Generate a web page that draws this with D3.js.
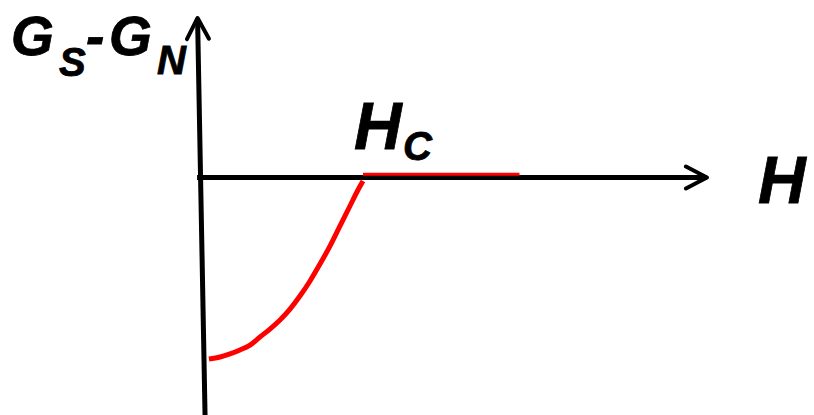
<!DOCTYPE html>
<html>
<head>
<meta charset="utf-8">
<script src="https://cdn.jsdelivr.net/npm/d3@7"></script>
<style>
  html, body { margin: 0; padding: 0; background: #fff; }
  svg { display: block; }
  text, tspan { font-family: "Liberation Sans", Arial, sans-serif; font-weight: bold; font-style: italic; fill: #000; stroke: #000; stroke-width: 0.8px; }
</style>
</head>
<body>
<svg id="chart" width="814" height="415"></svg>
<script>
// Reduced field H/Hc and free-energy difference (Gs - Gn), normalised to its minimum
const fieldSuper = [0.055, 0.123, 0.184, 0.245, 0.307, 0.368, 0.429, 0.491, 0.552,
                    0.613, 0.675, 0.736, 0.798, 0.859, 0.920, 0.969, 1.0];
const energySuper = [-1.0, -0.989, -0.972, -0.950, -0.923, -0.879, -0.835, -0.785, -0.725,
                     -0.653, -0.570, -0.477, -0.377, -0.267, -0.157, -0.069, -0.019];

// Normal state above Hc
const fieldNormal = [1.0, 1.96];
const energyNormal = [0.018, 0.018];

// Hand-drawn axis strokes, in data units
const yAxisH = [0.031, -0.015];
const yAxisG = [-1.31, 0.879];
const xAxisH = [-0.018, 3.11];
const xAxisG = [0, 0];

const svg = d3.select("#chart");

const x = d3.scaleLinear().domain([0, 1]).range([200, 363]);
const y = d3.scaleLinear().domain([0, -1]).range([177.5, 359]);

// open chevron arrowhead
svg.append("defs").append("marker")
  .attr("id", "arrow")
  .attr("markerUnits", "userSpaceOnUse")
  .attr("viewBox", "-24 -14 28 28")
  .attr("markerWidth", 28).attr("markerHeight", 28)
  .attr("refX", 0).attr("refY", 0)
  .attr("orient", "auto")
  .append("path")
  .attr("d", "M-21,-11 L0,0 L-21,11")
  .attr("fill", "none")
  .attr("stroke", "#000")
  .attr("stroke-width", 4)
  .attr("stroke-linecap", "round")
  .attr("stroke-linejoin", "round");

const straight = d3.line().x(d => x(d[0])).y(d => y(d[1]));
const smooth = d3.line().x(d => x(d[0])).y(d => y(d[1])).curve(d3.curveMonotoneX);

// axes
svg.append("path")
  .datum(d3.zip(xAxisH, xAxisG))
  .attr("d", straight)
  .attr("fill", "none").attr("stroke", "#000").attr("stroke-width", 5)
  .attr("marker-end", "url(#arrow)");

svg.append("path")
  .datum(d3.zip(yAxisH, yAxisG))
  .attr("d", straight)
  .attr("fill", "none").attr("stroke", "#000").attr("stroke-width", 5)
  .attr("marker-end", "url(#arrow)");

// superconducting branch
svg.append("path")
  .datum(d3.zip(fieldSuper, energySuper))
  .attr("d", smooth)
  .attr("fill", "none").attr("stroke", "#ff0000").attr("stroke-width", 5);

// normal branch
svg.append("path")
  .datum(d3.zip(fieldNormal, energyNormal))
  .attr("d", straight)
  .attr("fill", "none").attr("stroke", "#ff0000").attr("stroke-width", 3);

// y-axis title: Gs-Gn
const yt = svg.append("text");
yt.append("tspan").attr("x", 11).attr("y", 55).style("font-size", "55px").text("G");
yt.append("tspan").attr("x", 59).attr("y", 76).style("font-size", "40px").text("S");
yt.append("tspan").attr("x", 86).attr("y", 55).style("font-size", "55px").text("-");
yt.append("tspan").attr("x", 109).attr("y", 55).style("font-size", "55px").text("G");
yt.append("tspan").attr("x", 157).attr("y", 74).style("font-size", "40px").text("N");

// critical field label
const hc = svg.append("text");
hc.append("tspan").attr("x", x(1) - 9).attr("y", 149).style("font-size", "66px").text("H");
hc.append("tspan").attr("x", x(1) + 40).attr("y", 160).style("font-size", "40px").text("C");

// x-axis title
svg.append("text").attr("x", 758).attr("y", 203).style("font-size", "66px").text("H");
</script>
</body>
</html>
